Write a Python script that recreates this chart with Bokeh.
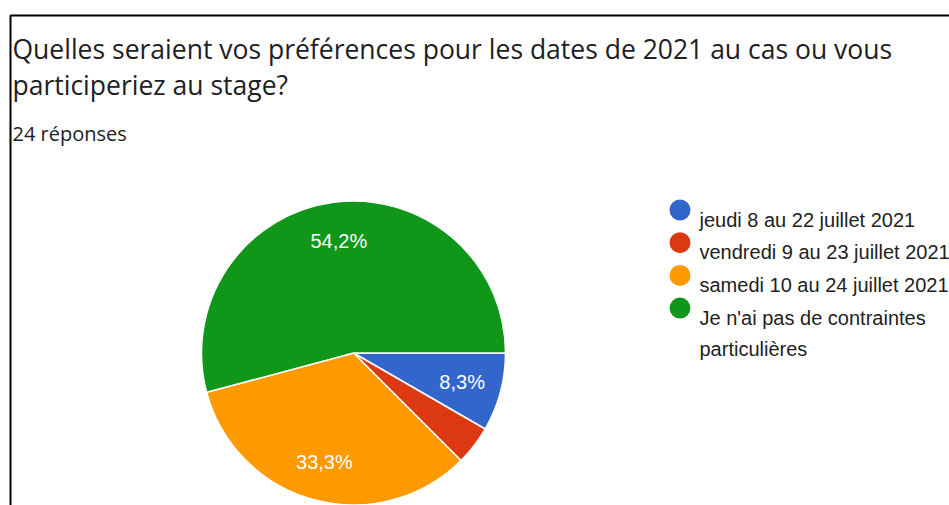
import numpy as np
from bokeh.plotting import figure
from bokeh.models import Range1d, ColumnDataSource
from bokeh.core.properties import value
from bokeh.embed import file_html
from bokeh.resources import INLINE

# ---- data ----
title_lines = ["Quelles seraient vos préférences pour les dates de 2021 au cas ou vous",
               "participeriez au stage?"]
responses_label = "24 réponses"
categories = ["jeudi 8 au 22 juillet 2021",
              "vendredi 9 au 23 juillet 2021",
              "samedi 10 au 24 juillet 2021",
              "Je n'ai pas de contraintes\nparticulières"]
counts = [2, 1, 8, 13]
colors = ["#3366cc", "#dc3912", "#ff9900", "#109618"]

W, H = 949, 505

p = figure(width=W, height=H, output_backend="svg", toolbar_location=None,
           x_range=Range1d(0, W), y_range=Range1d(0, H),
           min_border=0, background_fill_color="white", border_fill_color="white")
p.axis.visible = False
p.grid.visible = False
p.outline_line_color = None

# frame border (top + left)
p.line(x=[10, 10, W + 20], y=[-20, 490, 490], line_color="black", line_width=2)

# ---- pie ----
cx, cy, r = 353, 152.5, 152
total = sum(counts)
frac = np.array(counts) / total
ends = np.cumsum(frac) * 2 * np.pi
starts = ends - frac * 2 * np.pi
src = ColumnDataSource(dict(start=-starts, end=-ends, color=colors))
p.wedge(x=cx, y=cy, radius=r, start_angle="start", end_angle="end",
        direction="clock", fill_color="color", line_color="white",
        line_width=1.5, source=src)

mid = -(starts + ends) / 2
lab_r = 0.74 * r
show = frac >= 0.05
labels = [f"{f*100:.1f}".replace(".", ",") + "%" for f in frac]
lsrc = ColumnDataSource(dict(
    x=[cx + lab_r * np.cos(a) for a, s in zip(mid, show) if s],
    y=[cy + lab_r * np.sin(a) for a, s in zip(mid, show) if s],
    t=[l for l, s in zip(labels, show) if s]))
p.text(x="x", y="y", text="t", source=lsrc, text_color="white",
       text_font=value("Liberation Sans"), text_font_size="20px",
       text_align="center", text_baseline="middle")

# ---- title ----
tsrc = ColumnDataSource(dict(x=[12] * len(title_lines),
                             y=[457 - 36 * i for i in range(len(title_lines))],
                             t=title_lines))
p.text(x="x", y="y", text="t", source=tsrc, text_color="#202124",
       text_font=value("Open Sans"), text_font_size="26.5px",
       text_align="left", text_baseline="alphabetic")
p.text(x=[12], y=[372], text=[responses_label], text_color="#202124",
       text_font=value("Open Sans"), text_font_size="20px",
       text_align="left", text_baseline="alphabetic")

# ---- legend ----
leg_x, leg_y0, leg_dy = 679.5, 295.5, 32.7
leg_y = [leg_y0 - leg_dy * i for i in range(len(categories))]
p.scatter(x=[leg_x] * len(categories), y=leg_y, size=21, marker="circle",
          fill_color=colors, line_color=None)
tx, ty, tt = [], [], []
for yy, cat in zip(leg_y, categories):
    for k, line in enumerate(cat.split("\n")):
        tx.append(leg_x + 19.5)
        ty.append(yy - 9.5 - 31 * k)
        tt.append(line)
p.text(x=tx, y=ty, text=tt, text_color="#222222",
       text_font=value("Liberation Sans"), text_font_size="20px",
       text_align="left", text_baseline="alphabetic")

open("out.html", "w").write(file_html(p, INLINE))
